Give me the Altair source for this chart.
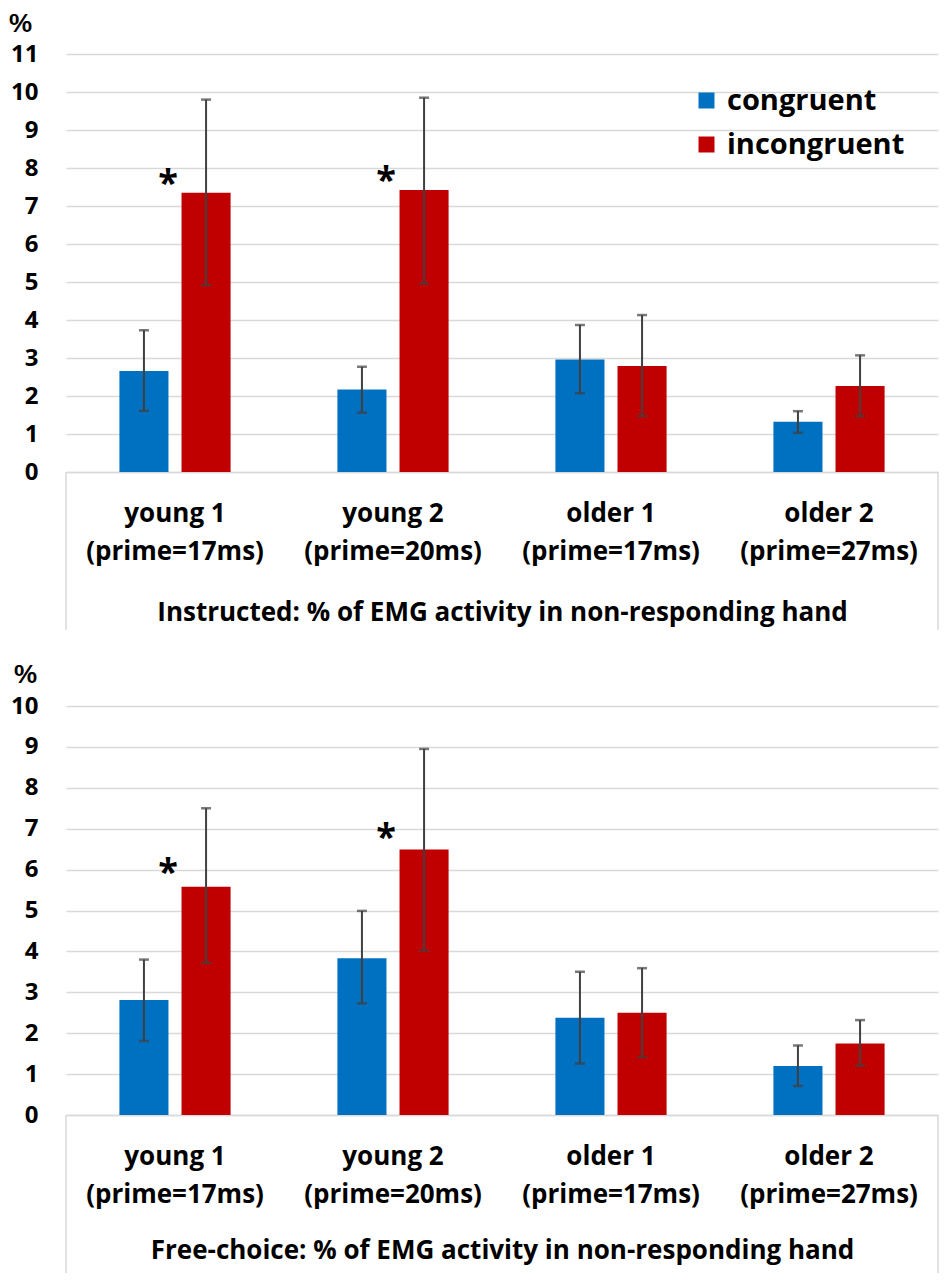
import altair as alt
import pandas as pd

groups = ["young 1|(prime=17ms)", "young 2|(prime=20ms)",
          "older 1|(prime=17ms)", "older 2|(prime=27ms)"]
conditions = ["congruent", "incongruent"]
colors = ["#0070C0", "#C00000"]

# Instructed panel
inst_cong = [2.66, 2.17, 2.96, 1.32]
inst_cong_lo = [1.61, 1.56, 2.07, 1.03]
inst_cong_hi = [3.73, 2.77, 3.87, 1.60]
inst_incong = [7.35, 7.42, 2.79, 2.26]
inst_incong_lo = [4.92, 4.96, 1.47, 1.47]
inst_incong_hi = [9.80, 9.85, 4.13, 3.07]
inst_star_groups = ["young 1|(prime=17ms)", "young 2|(prime=20ms)"]
inst_star_y = [7.7, 7.8]

# Free-choice panel
free_cong = [2.81, 3.83, 2.38, 1.20]
free_cong_lo = [1.81, 2.73, 1.26, 0.71]
free_cong_hi = [3.80, 4.99, 3.50, 1.70]
free_incong = [5.58, 6.49, 2.50, 1.75]
free_incong_lo = [3.72, 4.02, 1.42, 1.21]
free_incong_hi = [7.50, 8.95, 3.59, 2.32]
free_star_groups = ["young 1|(prime=17ms)", "young 2|(prime=20ms)"]
free_star_y = [6.05, 6.9]

FONT = "Open Sans"
PCT_FONT = "Liberation Sans"
GRID = "#D9D9D9"
ERR = "#404040"
W = 872


def build_df(c, clo, chi, i, ilo, ihi):
    rows = []
    for k, g in enumerate(groups):
        rows.append(dict(group=g, condition="congruent", mean=c[k], lo=clo[k], hi=chi[k]))
        rows.append(dict(group=g, condition="incongruent", mean=i[k], lo=ilo[k], hi=ihi[k]))
    return pd.DataFrame(rows)


def panel(df, star_groups, star_y, ymax, height, title, pct_x, pct_y, title_pad, show_legend):
    xscale = alt.Scale(domain=groups, paddingInner=0.49, paddingOuter=0.245)
    xaxis = alt.Axis(title=title, labelAngle=0, ticks=False,
                     domain=True, domainColor=GRID, domainWidth=1.5,
                     labelExpr="split(datum.label, '|')",
                     labelFont=FONT, labelFontSize=26, labelFontWeight="bold",
                     labelColor="black", labelLineHeight=38, labelPadding=28,
                     labelBaseline="top", labelLimit=400,
                     titleFont=FONT, titleFontSize=26, titleFontWeight="bold",
                     titleColor="black", titlePadding=title_pad)
    xo_scale = alt.Scale(domain=conditions, paddingInner=0.21, paddingOuter=0)
    yscale = alt.Scale(domain=[0, ymax], nice=False)
    yaxis = alt.Axis(values=list(range(0, ymax + 1)), grid=True, gridColor=GRID,
                     gridWidth=1.5, domain=False, ticks=False, labelOverlap=False,
                     labelFont=FONT, labelFontSize=24, labelFontWeight="bold",
                     labelColor="black", labelPadding=28,
                     title="%", titleAngle=0, titleX=pct_x, titleY=pct_y,
                     titleAlign="center", titleBaseline="middle",
                     titleFont=PCT_FONT, titleFontSize=26, titleFontWeight="bold",
                     titleColor="black")

    def X():
        return alt.X("group:N", sort=groups, scale=xscale, axis=xaxis)

    def XO():
        return alt.XOffset("condition:N", sort=conditions, scale=xo_scale)

    def Y(field):
        return alt.Y(field, scale=yscale, axis=yaxis)

    if show_legend:
        legend = alt.Legend(title=None, orient="none", legendX=626, legendY=32,
                            symbolType="square", symbolSize=256, symbolStrokeWidth=0,
                            labelFont=FONT, labelFontSize=29, labelFontWeight="bold",
                            labelColor="black", rowPadding=14, labelOffset=6,
                            labelLimit=400)
    else:
        legend = None
    color = alt.Color("condition:N", sort=conditions,
                      scale=alt.Scale(domain=conditions, range=colors), legend=legend)

    base = alt.Chart(df)
    bars = base.mark_bar().encode(x=X(), xOffset=XO(), y=Y("mean:Q"), color=color)
    err = base.mark_rule(color=ERR, strokeWidth=2).encode(
        x=X(), xOffset=XO(), y=Y("lo:Q"), y2="hi:Q")
    cap_hi = base.mark_tick(color=ERR, thickness=2.5, size=10).encode(
        x=X(), xOffset=XO(), y=Y("hi:Q"))
    cap_lo = base.mark_tick(color=ERR, thickness=2.5, size=10).encode(
        x=X(), xOffset=XO(), y=Y("lo:Q"))
    star_df = pd.DataFrame(dict(group=star_groups, condition=["congruent"] * len(star_groups),
                                y=star_y, t=["*"] * len(star_groups)))
    stars = alt.Chart(star_df).mark_text(font=FONT, fontSize=36, fontWeight="bold",
                                         color="black", dx=24, dy=5).encode(
        x=X(), xOffset=XO(), y=Y("y:Q"), text="t:N")
    box_l = alt.Chart(alt.Data(values=[{}])).mark_rule(color=GRID, strokeWidth=1.5).encode(
        x=alt.value(0), y=alt.value(height), y2=alt.value(height + 158))
    box_r = alt.Chart(alt.Data(values=[{}])).mark_rule(color=GRID, strokeWidth=1.5).encode(
        x=alt.value(W), y=alt.value(height), y2=alt.value(height + 158))
    return alt.layer(bars, err, cap_hi, cap_lo, stars, box_l, box_r).properties(
        width=W, height=height)


top = panel(build_df(inst_cong, inst_cong_lo, inst_cong_hi,
                     inst_incong, inst_incong_lo, inst_incong_hi),
            inst_star_groups, inst_star_y, 11, 418,
            "Instructed: % of EMG activity in non-responding hand", -46, -31, 35, True)
bottom = panel(build_df(free_cong, free_cong_lo, free_cong_hi,
                        free_incong, free_incong_lo, free_incong_hi),
               free_star_groups, free_star_y, 10, 409,
               "Free-choice: % of EMG activity in non-responding hand", -41, -32, 30, False)

chart = alt.vconcat(top, bottom, spacing=30).resolve_scale(
    y="independent", x="independent", color="independent").configure(
    padding={"top": 2, "left": 0, "right": 0, "bottom": 0},
    background="white").configure_view(stroke=None)

chart.save("out.html", embed_options={"renderer": "svg", "actions": False})
